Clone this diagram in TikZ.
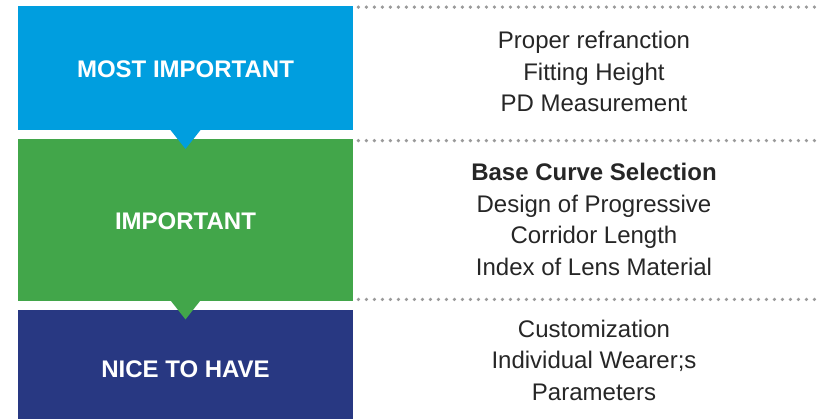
\documentclass[tikz,border=0pt]{standalone}
\usepackage{fontspec}
\setmainfont{Liberation Sans}
\definecolor{tierblue}{HTML}{009EDF}
\definecolor{tiergreen}{HTML}{42A64A}
\definecolor{tiernavy}{HTML}{283882}
\definecolor{dotgray}{HTML}{9A9A9A}
\begin{document}
\begin{tikzpicture}[x=0.5pt, y=-0.5pt,
  tier/.style={inner sep=0pt, minimum width=167.5pt, text depth=0pt, text height=9.9pt, text=white, font=\fontsize{12}{14}\selectfont\bfseries},
  items/.style={align=center, text=black!85, font=\fontsize{12}{15.75}\selectfont},
  dots/.style={dotgray, line width=1.8pt, line cap=round, dash pattern=on 0pt off 4pt}]
\useasboundingbox (0,0) rectangle (819,419);
% tiers
\node[tier, fill=tierblue, minimum height=62pt] (most) at (185.5,68) {MOST IMPORTANT};
\node[tier, fill=tiergreen, minimum height=81pt] (imp) at (185.5,220) {IMPORTANT};
\node[tier, fill=tiernavy, minimum height=54.5pt, text height=13.3pt] (nice) at (185.5,364.5) {NICE TO HAVE};
% pointers
\fill[tierblue] ([shift={(-7.75pt,0.5pt)}]most.south) -- ([shift={(7.75pt,0.5pt)}]most.south) -- ([yshift=-9.25pt]most.south) -- cycle;
\fill[tiergreen] ([shift={(-7.5pt,0.5pt)}]imp.south) -- ([shift={(7.5pt,0.5pt)}]imp.south) -- ([yshift=-9pt]imp.south) -- cycle;
% dotted rules
\coordinate (rim) at (817,0);
\draw[dots] ([shift={(2.5pt,-0.75pt)}]most.north east) -- ([yshift=-0.75pt]most.north east -| rim);
\draw[dots] ([shift={(2.5pt,-1pt)}]imp.north east) -- ([yshift=-1pt]imp.north east -| rim);
\draw[dots] ([shift={(2.5pt,1pt)}]imp.south east) -- ([yshift=1pt]imp.south east -| rim);
% lists
\node[items] (l1) at (594,71.5) {Proper refranction\\Fitting Height\\PD Measurement};
\node[items] (l2) at (594,219.5) {\textbf{Base Curve Selection}\\Design of Progressive\\Corridor Length\\Index of Lens Material};
\node[items] (l3) at (594,360) {Customization\\Individual Wearer;s\\Parameters};
\end{tikzpicture}
\end{document}
